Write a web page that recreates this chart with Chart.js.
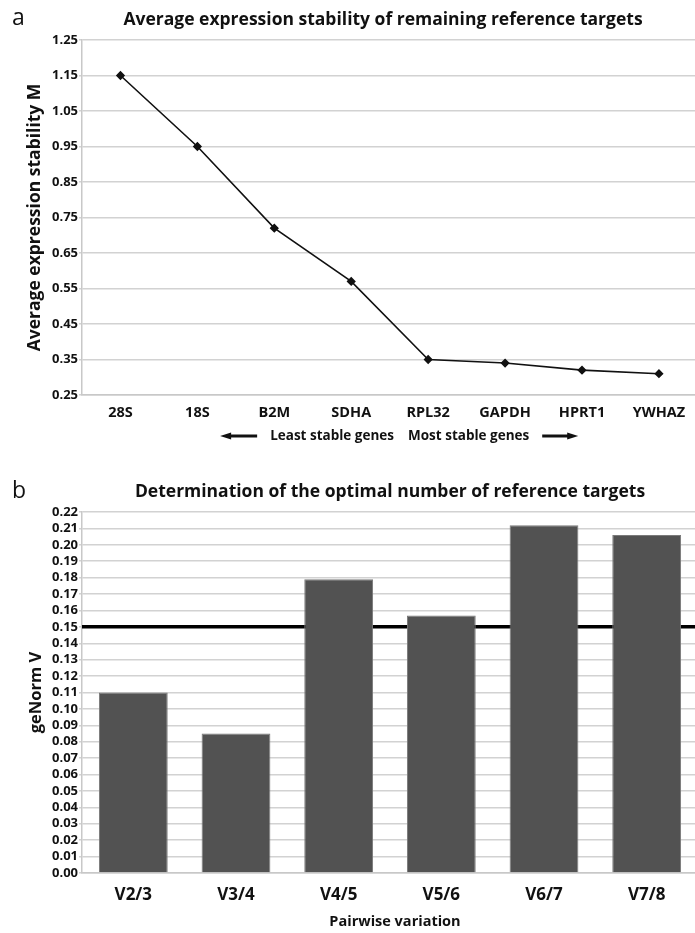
<!DOCTYPE html>
<html>
<head>
<meta charset="utf-8">
<script src="https://cdn.jsdelivr.net/npm/chart.js@4"></script>
<style>
    html, body { margin: 0; padding: 0; background: #fff; overflow: hidden; }
    body { width: 695px; height: 933px; position: relative; }
    .panel { position: absolute; left: 0; }
    #panelA { top: 0; width: 703px; height: 455px; }
    #panelB { top: 455px; width: 698px; height: 478px; }
</style>
</head>
<body>
<div class="panel" id="panelA"><canvas id="chartA"></canvas></div>
<div class="panel" id="panelB"><canvas id="chartB"></canvas></div>
<script>
    // Panel a: gene stability
    const genes = ['28S', '18S', 'B2M', 'SDHA', 'RPL32', 'GAPDH', 'HPRT1', 'YWHAZ'];
    const stabilityM = [1.15, 0.95, 0.72, 0.57, 0.35, 0.34, 0.32, 0.31];
    const stabilityTicks = [0.25, 0.35, 0.45, 0.55, 0.65, 0.75, 0.85, 0.95, 1.05, 1.15, 1.25];

    // Panel b: pairwise variation
    const pairs = ['V2/3', 'V3/4', 'V4/5', 'V5/6', 'V6/7', 'V7/8'];
    const genormV = [0.110, 0.085, 0.179, 0.157, 0.212, 0.206];
    const genormTicks = [0.00, 0.01, 0.02, 0.03, 0.04, 0.05, 0.06, 0.07, 0.08, 0.09, 0.10, 0.11,
                         0.12, 0.13, 0.14, 0.15, 0.16, 0.17, 0.18, 0.19, 0.20, 0.21, 0.22];
    const cutoff = 0.15;

    const FONT = "'Open Sans', 'DejaVu Sans', sans-serif";
    const GRID = '#d2d2d2';

    Chart.defaults.font.family = FONT;
    Chart.defaults.color = '#111';

    // Draws panel letter, title and free text (all real canvas text)
    const panelText = {
        id: 'panelText',
        afterDraw(chart, args, opts) {
            const ctx = chart.ctx;
            ctx.save();
            ctx.fillStyle = '#111';
            ctx.textBaseline = 'alphabetic';
            ctx.textAlign = 'left';
            ctx.font = '400 23px ' + FONT;
            ctx.fillText(opts.letter, 12, opts.letterY);

            ctx.textAlign = 'center';
            ctx.font = '700 ' + opts.titleSize + 'px ' + FONT;
            ctx.fillText(opts.title, opts.titleX, opts.titleY);

            // rotated y axis title
            ctx.save();
            ctx.translate(opts.yTitleX, (chart.chartArea.top + chart.chartArea.bottom) / 2);
            ctx.rotate(-Math.PI / 2);
            ctx.textBaseline = 'middle';
            ctx.font = '700 ' + opts.yTitleSize + 'px ' + FONT;
            ctx.fillText(opts.yTitle, 0, 0);
            ctx.restore();

            if (opts.xTitle) {
                ctx.textBaseline = 'middle';
                ctx.font = '700 14.5px ' + FONT;
                ctx.fillText(opts.xTitle, opts.xTitleX, opts.xTitleY);
            }

            if (opts.caption) {
                ctx.textBaseline = 'middle';
                ctx.font = '700 13.5px ' + FONT;
                const y = opts.captionY;
                ctx.textAlign = 'right';
                ctx.fillText(opts.caption[0], opts.captionX - 7, y);
                ctx.textAlign = 'left';
                ctx.fillText(opts.caption[1], opts.captionX + 7, y);
                const wl = ctx.measureText(opts.caption[0]).width;
                const wr = ctx.measureText(opts.caption[1]).width;
                const drawArrow = (x1, x2) => {
                    const dir = Math.sign(x2 - x1);
                    ctx.strokeStyle = '#111';
                    ctx.lineWidth = 3;
                    ctx.beginPath();
                    ctx.moveTo(x1, y);
                    ctx.lineTo(x2 - dir * 8, y);
                    ctx.stroke();
                    ctx.beginPath();
                    ctx.moveTo(x2, y);
                    ctx.lineTo(x2 - dir * 11, y - 3.5);
                    ctx.lineTo(x2 - dir * 11, y + 3.5);
                    ctx.closePath();
                    ctx.fill();
                };
                const lEnd = opts.captionX - 7 - wl - 13;
                drawArrow(lEnd, lEnd - 37);
                const rStart = opts.captionX + 7 + wr + 13;
                drawArrow(rStart, rStart + 36);
            }
            ctx.restore();
        }
    };

    // Horizontal cut-off line behind the bars
    const cutoffLine = {
        id: 'cutoffLine',
        beforeDatasetsDraw(chart, args, opts) {
            if (opts.value === undefined) return;
            const y = chart.scales.y.getPixelForValue(opts.value);
            const ctx = chart.ctx;
            ctx.save();
            ctx.strokeStyle = '#000';
            ctx.lineWidth = 3.5;
            ctx.beginPath();
            ctx.moveTo(chart.chartArea.left, y);
            ctx.lineTo(chart.chartArea.right, y);
            ctx.stroke();
            ctx.restore();
        }
    };

    function yScale(ticks, min, max, size) {
        return {
            min: min,
            max: max,
            afterBuildTicks: axis => { axis.ticks = ticks.map(v => ({ value: v })); },
            afterFit: axis => { axis.width = 82; },
            border: { display: true, color: '#c8c8c8', width: 1.5 },
            grid: { color: GRID, lineWidth: 1.5, drawTicks: true, tickLength: 3, tickColor: GRID },
            ticks: {
                autoSkip: false,
                padding: 1,
                color: '#111',
                font: { size: size, weight: '700' },
                callback: v => Number(v).toFixed(2)
            }
        };
    }

    new Chart(document.getElementById('chartA').getContext('2d'), {
        type: 'line',
        data: {
            labels: genes,
            datasets: [{
                data: stabilityM,
                borderColor: '#111',
                backgroundColor: '#111',
                borderWidth: 1.6,
                pointStyle: 'rectRot',
                pointRadius: 3.5,
                tension: 0,
                fill: false
            }]
        },
        options: {
            responsive: true,
            maintainAspectRatio: false,
            animation: false,
            layout: { padding: { top: 40, left: 0, right: 0, bottom: 0 } },
            scales: {
                x: {
                    offset: true,
                    afterFit: axis => { axis.height = 60; },
                    border: { display: true, color: '#c8c8c8', width: 1.5 },
                    grid: { display: false },
                    ticks: { padding: 1, color: '#111', font: { size: 14.5, weight: '700' } }
                },
                y: yScale(stabilityTicks, 0.25, 1.25, 13)
            },
            plugins: {
                legend: { display: false },
                tooltip: { enabled: false },
                panelText: {
                    letter: 'a', letterY: 25,
                    title: 'Average expression stability of remaining reference targets',
                    titleSize: 17.5, titleX: 383, titleY: 25,
                    yTitle: 'Average expression stability M', yTitleSize: 17.5, yTitleX: 35,
                    caption: ['Least stable genes', 'Most stable genes'],
                    captionX: 401, captionY: 436
                }
            }
        },
        plugins: [panelText]
    });

    new Chart(document.getElementById('chartB').getContext('2d'), {
        type: 'bar',
        data: {
            labels: pairs,
            datasets: [{
                data: genormV,
                backgroundColor: '#525252',
                borderColor: '#7a7a7a',
                borderWidth: 1,
                barPercentage: 0.67,
                categoryPercentage: 1
            }]
        },
        options: {
            responsive: true,
            maintainAspectRatio: false,
            animation: false,
            layout: { padding: { top: 57, left: 0, right: 0, bottom: 0 } },
            scales: {
                x: {
                    afterFit: axis => { axis.height = 60; },
                    border: { display: true, color: '#c8c8c8', width: 1.5 },
                    grid: { display: false },
                    ticks: { padding: 4, color: '#111', font: { size: 17, weight: '700' } }
                },
                y: yScale(genormTicks, 0, 0.22, 13)
            },
            plugins: {
                legend: { display: false },
                tooltip: { enabled: false },
                cutoffLine: { value: cutoff },
                panelText: {
                    letter: 'b', letterY: 43,
                    title: 'Determination of the optimal number of reference targets',
                    titleSize: 17.5, titleX: 390, titleY: 42,
                    yTitle: 'geNorm V', yTitleSize: 16.5, yTitleX: 36,
                    xTitle: 'Pairwise variation', xTitleX: 395, xTitleY: 467
                }
            }
        },
        plugins: [panelText, cutoffLine]
    });
</script>
</body>
</html>
